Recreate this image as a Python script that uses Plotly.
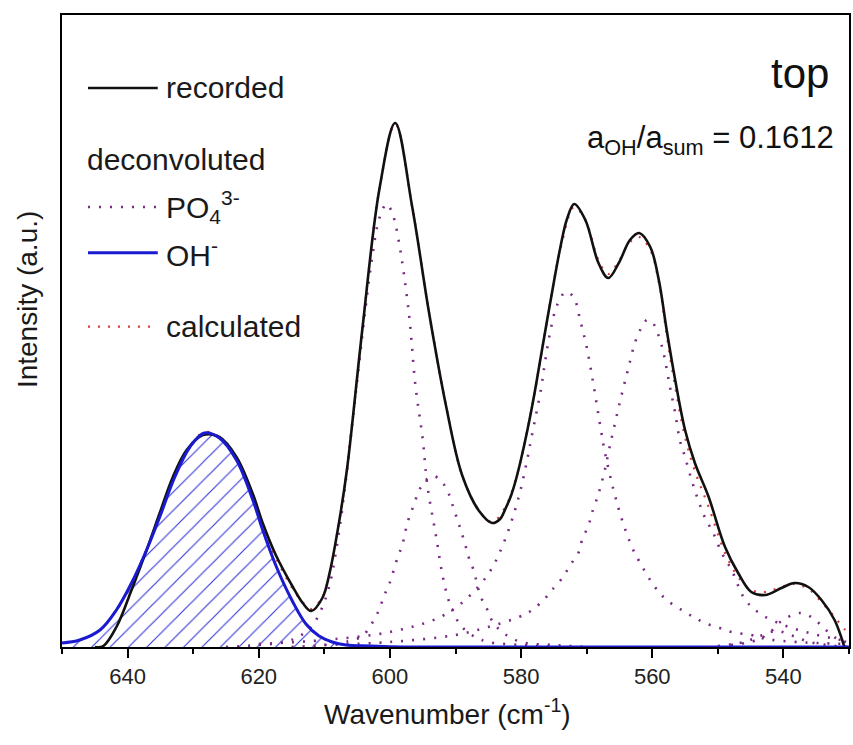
import plotly.graph_objects as go

# ---------------- data ----------------
# recorded spectrum (black)
rec_x = [645.0, 643.7, 641.7, 639.4, 637.1, 635.1, 633.1, 631.0, 628.5, 626.0, 623.4, 620.9,
         619.4, 617.4, 614.8, 613.3, 612.0, 610.3, 609.2, 607.7, 606.5, 604.2, 601.6, 599.2,
         596.6, 594.0, 591.5, 589.0, 586.4, 584.4, 583.2, 582.4, 581.5, 580.8, 580.0, 579.0,
         578.0, 577.0, 576.0, 575.0, 574.0, 573.0, 571.9, 570.2, 568.2, 566.7, 565.1, 563.4,
         562.0, 560.3, 559.0, 557.8, 556.5, 555.0, 553.5, 551.4, 548.9, 546.9, 544.9, 542.8,
         540.3, 538.3, 536.2, 534.2, 532.2, 530.7]
rec_y = [0, 1, 20, 57, 97, 134, 170, 197, 212, 210, 190, 153,
         124, 92, 60, 44, 36, 49, 74, 127, 180, 318, 458, 524,
         440, 333, 243, 172, 136, 124, 128, 138, 152, 167, 188, 218,
         252, 290, 328, 365, 400, 428, 443, 427, 384, 369, 384, 407,
         414, 400, 367, 317, 267, 217, 184, 150, 100, 74, 55, 52,
         59, 64, 60, 47, 27, 0]

# deconvoluted OH- band (blue)
oh_x = [650.0, 647.3, 644.2, 641.7, 639.4, 637.1, 635.1, 632.8, 630.5, 628.3, 626.0, 623.4,
        620.9, 619.4, 617.3, 614.8, 612.8, 610.8, 608.8, 606.7, 603.0, 598.0, 530.0]
oh_y = [4, 7, 17, 37, 64, 97, 130, 170, 200, 214, 209, 187,
        147, 117, 80, 45, 23, 11, 5, 2, 1, 0, 0]

# deconvoluted PO4 3- bands (purple dotted)
po1_x = [625.0, 620.0, 616.0, 614.0, 612.0, 610.5, 609.2, 607.7, 606.7, 605.7, 604.7, 603.7,
         602.7, 601.6, 600.5, 599.6, 598.6, 597.1, 596.1, 595.0, 594.3, 593.0, 591.7, 590.5,
         589.0, 587.0, 585.0, 580.0, 575.0]
po1_y = [0, 2, 5, 10, 20, 37, 62, 118, 168, 226, 283, 340,
         390, 429, 443, 433, 404, 333, 261, 208, 162, 112, 63, 37,
         20, 10, 5, 2, 0]

po2_x = [615.0, 610.0, 606.2, 604.2, 602.7, 601.6, 600.9, 600.1, 598.8, 598.1, 597.6, 597.1,
         596.3, 595.6, 594.5, 593.4, 592.3, 591.2, 590.5, 589.8, 589.2, 588.5, 588.0, 587.2,
         586.2, 585.2, 584.4, 582.9, 580.0, 575.0, 570.0]
po2_y = [0, 2, 6, 11, 24, 38, 51, 63, 90, 102, 117, 129,
         143, 156, 167, 171, 167, 156, 143, 129, 117, 102, 90, 76,
         51, 38, 26, 15, 5, 2, 0]

po3_x = [620.0, 610.0, 600.0, 592.3, 588.2, 584.9, 582.9, 581.4, 580.2, 579.3, 578.4, 577.0,
         576.3, 575.5, 574.5, 573.2, 572.0, 571.0, 570.0, 568.9, 567.9, 567.2, 565.9, 564.6,
         563.1, 562.1, 559.6, 557.8, 555.5, 553.7, 552.0, 549.7, 547.9, 544.9, 542.6, 538.0, 530.0]
po3_y = [3, 7, 15, 30, 49, 74, 100, 127, 154, 180, 210, 257,
         287, 317, 342, 355, 350, 327, 300, 260, 220, 194, 157, 127,
         100, 87, 60, 47, 37, 30, 24, 19, 15, 12, 8, 5, 3]

po4_x = [610.0, 600.0, 590.0, 585.0, 580.3, 578.3, 576.3, 575.3, 573.7, 572.5, 571.2, 570.7,
         569.7, 569.2, 568.4, 567.9, 567.2, 566.5, 565.6, 564.6, 563.6, 562.6, 561.6, 560.8,
         560.0, 558.5, 558.0, 557.3, 556.5, 555.8, 555.0, 554.0, 553.0, 552.0, 550.7, 549.4,
         547.9, 545.9, 543.7, 540.0, 536.0, 532.0, 530.0]
po4_y = [2, 5, 12, 20, 30, 37, 49, 57, 69, 82, 95, 107,
         122, 134, 149, 160, 178, 200, 226, 254, 280, 305, 320, 327,
         325, 300, 285, 260, 234, 207, 190, 167, 147, 130, 114, 94,
         77, 48, 34, 22, 14, 8, 6]

po5_x = [550.0, 546.0, 543.5, 541.0, 538.5, 536.0, 532.0, 530.0]
po5_y = [1, 5, 11, 16, 11, 5, 1, 0]

po6_x = [548.0, 544.0, 542.0, 540.3, 537.5, 535.5, 533.7, 532.0, 530.0]
po6_y = [2, 7, 15, 26, 34, 29, 18, 9, 4]

# calculated sum (red dotted)
calc_x = [650.0, 647.3, 644.2, 641.7, 639.4, 637.1, 635.1, 632.8, 630.5, 628.3, 626.0, 623.4,
          620.9, 619.4, 617.3, 614.8, 613.3, 612.0, 610.3, 609.2, 607.7, 606.5, 604.2, 601.6,
          599.2, 596.6, 594.0, 591.5, 589.0, 586.4, 584.4, 582.4, 580.8, 580.0, 578.0, 576.0,
          574.0, 571.9, 570.2, 568.2, 566.7, 565.1, 563.4, 562.0, 560.3, 559.0, 557.8, 556.5,
          555.0, 553.5, 551.4, 548.9, 546.9, 544.9, 542.8, 540.3, 538.3, 536.2, 534.2, 532.2,
          530.7, 530.0]
calc_y = [4, 7, 17, 37, 64, 98, 131, 171, 201, 215, 210, 188,
          150, 121, 88, 58, 45, 38, 50, 74, 127, 180, 318, 458,
          523, 440, 333, 243, 172, 136, 125, 140, 168, 188, 252, 328,
          398, 440, 427, 387, 373, 386, 405, 410, 397, 365, 312, 260,
          210, 176, 140, 94, 70, 57, 55, 60, 63, 58, 45, 30,
          18, 14]

x_ticks = [640, 620, 600, 580, 560, 540]
x_range = [650, 530]
y_range = [0, 632]

FONT = "Liberation Sans, Arial, Helvetica, sans-serif"
PURPLE = "#7a2a84"
RED = "#d23c3c"
BLUE = "#1a1ad0"
DOT = "2px,9px"

fig = go.Figure()

# hatched OH- area
fig.add_trace(go.Scatter(
    x=oh_x, y=oh_y, mode="lines", line=dict(width=0, color=BLUE, shape="spline"),
    fill="tozeroy", fillcolor="rgba(0,0,0,0)",
    fillpattern=dict(shape="/", size=13, solidity=0.09, fgcolor="#3a3ad8",
                     bgcolor="rgba(0,0,0,0)", fillmode="replace"),
    showlegend=False, hoverinfo="skip"))

for px_, py_ in [(po1_x, po1_y), (po2_x, po2_y), (po3_x, po3_y),
                 (po4_x, po4_y), (po5_x, po5_y), (po6_x, po6_y)]:
    fig.add_trace(go.Scatter(x=px_, y=py_, mode="lines",
                             line=dict(color=PURPLE, width=2.6, dash=DOT, shape="spline"),
                             showlegend=False))

fig.add_trace(go.Scatter(x=calc_x, y=calc_y, mode="lines",
                         line=dict(color=RED, width=2.2, dash="2px,8px", shape="spline"),
                         showlegend=False))
fig.add_trace(go.Scatter(x=rec_x, y=rec_y, mode="lines",
                         line=dict(color="#111111", width=2.6, shape="spline"),
                         showlegend=False))
fig.add_trace(go.Scatter(x=oh_x, y=oh_y, mode="lines",
                         line=dict(color=BLUE, width=3, shape="spline"),
                         showlegend=False))

# ---------------- manual legend ----------------
lx0, lx1 = 0.033, 0.1217
rows = [(0.8845, dict(color="#111111", width=2.6)),
        (0.6962, dict(color=PURPLE, width=2.6, dash=DOT)),
        (0.6239, dict(color=BLUE, width=3)),
        (0.5068, dict(color=RED, width=2.2, dash="2px,8px"))]
for yy, ln in rows:
    fig.add_shape(type="line", xref="paper", yref="paper", x0=lx0, x1=lx1, y0=yy, y1=yy, line=ln)

tfont = dict(family=FONT, size=30, color="#1a1a1a")
legend_text = [(0.129, 0.8845, "recorded"),
               (0.029, 0.7706, "deconvoluted"),
               (0.129, 0.6962, "PO<sub>4</sub><sup>3-</sup>"),
               (0.129, 0.6239, "OH<sup>-</sup>"),
               (0.129, 0.5068, "calculated")]
for xx, yy, tt in legend_text:
    fig.add_annotation(x=xx, y=yy, xref="paper", yref="paper", text=tt, showarrow=False,
                       xanchor="left", yanchor="middle", font=tfont)

fig.add_annotation(x=0.977, y=0.908, xref="paper", yref="paper", text="top", showarrow=False,
                   xanchor="right", yanchor="middle", font=dict(family=FONT, size=42, color="#111"))
fig.add_annotation(x=0.984, y=0.802, xref="paper", yref="paper",
                   text="a<sub>OH</sub>/a<sub>sum</sub> = 0.1612", showarrow=False,
                   xanchor="right", yanchor="middle", font=dict(family=FONT, size=31, color="#111"))

# axis titles
fig.add_annotation(x=0.49, y=-0.103, xref="paper", yref="paper",
                   text="Wavenumber (cm<sup>-1</sup>)", showarrow=False,
                   xanchor="center", yanchor="middle", font=dict(family=FONT, size=28, color="#1a1a1a"))
fig.add_annotation(x=-0.0444, y=0.549, xref="paper", yref="paper", text="Intensity (a.u.)",
                   showarrow=False, textangle=-90, xanchor="center", yanchor="middle",
                   font=dict(family=FONT, size=28, color="#1a1a1a"))

fig.update_layout(
    width=853, height=745,
    margin=dict(l=62, r=2, t=15, b=98),
    paper_bgcolor="white", plot_bgcolor="white",
    showlegend=False,
    xaxis=dict(range=x_range, tickvals=x_ticks, ticktext=[str(v) for v in x_ticks],
               showline=True, linewidth=2, linecolor="black", mirror=True,
               ticks="outside", ticklen=9, tickwidth=1.6, tickcolor="black",
               tickfont=dict(family=FONT, size=22, color="#222"),
               showgrid=False, zeroline=False, layer="below traces",
               minor=dict(dtick=10, tick0=530, ticks="outside", ticklen=5, tickwidth=1.6,
                          tickcolor="black", showgrid=False)),
    yaxis=dict(range=y_range, showline=True, linewidth=2, linecolor="black", mirror=True,
               showticklabels=False, ticks="", showgrid=False, zeroline=False,
               layer="below traces"),
)

fig.write_html("out.html")
